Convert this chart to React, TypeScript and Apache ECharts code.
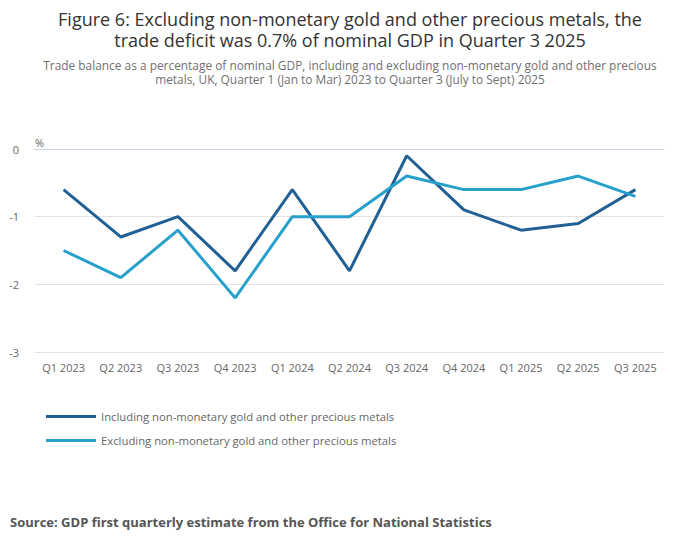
import * as echarts from 'echarts';
import { useEffect, useRef } from 'react';

const quarters = [
  'Q1 2023', 'Q2 2023', 'Q3 2023', 'Q4 2023',
  'Q1 2024', 'Q2 2024', 'Q3 2024', 'Q4 2024',
  'Q1 2025', 'Q2 2025', 'Q3 2025',
];

const includingGold = [-0.6, -1.3, -1.0, -1.8, -0.6, -1.8, -0.1, -0.9, -1.2, -1.1, -0.6];
const excludingGold = [-1.5, -1.9, -1.2, -2.2, -1.0, -1.0, -0.4, -0.6, -0.6, -0.4, -0.7];

const seriesNames = [
  'Including non-monetary gold and other precious metals',
  'Excluding non-monetary gold and other precious metals',
];

const titleLines = [
  'Figure 6: Excluding non-monetary gold and other precious metals, the',
  'trade deficit was 0.7% of nominal GDP in Quarter 3 2025',
];

const subtitleLines = [
  'Trade balance as a percentage of nominal GDP, including and excluding non-monetary gold and other precious',
  'metals, UK, Quarter 1 (Jan to Mar) 2023 to Quarter 3 (July to Sept) 2025',
];

const FONT = '"Open Sans", "Noto Sans", sans-serif';

const centredLine = (text: string, y: number, font: string, fill: string) => ({
  type: 'text',
  x: 350,
  y,
  style: {
    text,
    font,
    fill,
    align: 'center',
    verticalAlign: 'middle',
    textAlign: 'center',
    textVerticalAlign: 'middle',
  },
});

const App = () => {
  const chartRef = useRef<HTMLDivElement>(null);

  useEffect(() => {
    document.body.style.margin = '0';
    if (!chartRef.current) return;

    const chart = echarts.init(chartRef.current, undefined, { renderer: 'svg' });

    chart.setOption({
      animation: false,
      textStyle: { fontFamily: FONT },
      grid: {
        left: 35,
        right: 36,
        top: 149,
        bottom: 197,
      },
      legend: {
        orient: 'vertical',
        left: 41,
        top: 406,
        icon: 'rect',
        itemWidth: 50,
        itemHeight: 3,
        itemGap: 13,
        data: seriesNames,
        textStyle: {
          color: '#666666',
          fontFamily: FONT,
          fontSize: 11.3,
        },
      },
      xAxis: {
        type: 'category',
        data: quarters,
        boundaryGap: true,
        axisLine: { lineStyle: { color: '#c6d3e8' } },
        axisTick: { alignWithLabel: true, length: 7, lineStyle: { color: '#c6d3e8' } },
        axisLabel: {
          color: '#666666',
          fontFamily: FONT,
          fontSize: 11,
          margin: 10,
          interval: 0,
        },
      },
      yAxis: {
        type: 'value',
        min: -3,
        max: 0,
        interval: 1,
        name: '%',
        nameLocation: 'end',
        nameGap: 7,
        nameTextStyle: {
          align: 'left',
          color: '#666666',
          fontFamily: FONT,
          fontSize: 11,
          verticalAlign: 'middle',
        },
        axisLine: { show: false },
        axisTick: { show: false },
        axisLabel: {
          color: '#666666',
          fontFamily: FONT,
          fontSize: 11,
          margin: 16,
        },
        splitLine: { lineStyle: { color: '#e2e2e2' } },
      },
      series: [
        {
          name: seriesNames[0],
          type: 'line',
          data: includingGold,
          showSymbol: false,
          lineStyle: { color: '#206095', width: 3 },
          itemStyle: { color: '#206095' },
        },
        {
          name: seriesNames[1],
          type: 'line',
          data: excludingGold,
          showSymbol: false,
          lineStyle: { color: '#27a0cc', width: 3 },
          itemStyle: { color: '#27a0cc' },
        },
      ],
      graphic: [
        centredLine(titleLines[0], 19, `18px ${FONT}`, '#333333'),
        centredLine(titleLines[1], 40, `18px ${FONT}`, '#333333'),
        centredLine(subtitleLines[0], 65, `11.9px ${FONT}`, '#707070'),
        centredLine(subtitleLines[1], 79, `11.9px ${FONT}`, '#707070'),
        {
          type: 'text',
          left: 10,
          top: 515,
          style: {
            text: 'Source: GDP first quarterly estimate from the Office for National Statistics',
            fill: '#555555',
            font: `bold 13px ${FONT}`,
          },
        },
      ],
    });

    const handleResize = () => {
      chart.resize();
    };

    window.addEventListener('resize', handleResize);

    // eslint-disable-next-line consistent-return
    return () => {
      window.removeEventListener('resize', handleResize);
      chart.dispose();
    };
  }, []);

  return <div ref={chartRef} style={{ height: 549, width: 700 }} />;
};

export default App;
